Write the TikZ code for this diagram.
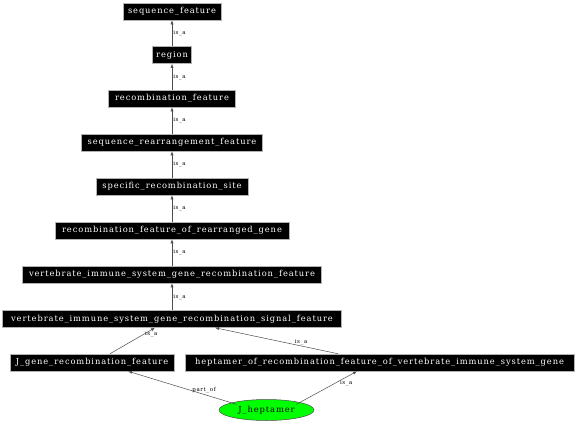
\documentclass[tikz,border=0pt]{standalone}
\usepackage{fontspec}
\setmainfont{DejaVu Serif}
\newfontfamily\widefont[LetterSpace=11]{DejaVu Serif}
\usetikzlibrary{arrows.meta,shapes.geometric}
\begin{document}
\begin{tikzpicture}[x=1pt,y=-1pt,
  term/.style={fill=black,text=white,draw=gray!60,line width=0.5pt,inner sep=0pt,minimum height=17pt,font=\widefont\fontsize{8.3}{9}\selectfont},
  edge/.style={draw=black!70,line width=0.5pt,-{Latex[length=4pt,width=3pt]}},
  lab/.style={font=\widefont\fontsize{5.5}{6}\selectfont,inner sep=1pt}]
\useasboundingbox (0,0) rectangle (576,423);
\node[term,minimum width=98pt] (sf) at (172,11.5) {sequence\_feature};
\node[term,minimum width=39pt] (rg) at (172,55) {region};
\node[term,minimum width=127pt] (rf) at (172,98.5) {recombination\_feature};
\node[term,minimum width=181pt] (srf) at (172,142.5) {sequence\_rearrangement\_feature};
\node[term,minimum width=152pt] (srs) at (172,186.5) {specific\_recombination\_site};
\node[term,minimum width=234pt] (rfrg) at (172,230.5) {recombination\_feature\_of\_rearranged\_gene};
\node[term,minimum width=299pt] (visgrf) at (172,274.5) {vertebrate\_immune\_system\_gene\_recombination\_feature};
\node[term,minimum width=339pt] (visgrsf) at (172,319) {vertebrate\_immune\_system\_gene\_recombination\_signal\_feature};
\node[term,minimum width=164pt] (jgrf) at (92,362.5) {J\_gene\_recombination\_feature};
\node[term,minimum width=389pt] (hep) at (379.5,362.5) {heptamer\_of\_recombination\_feature\_of\_vertebrate\_immune\_system\_gene};
\node[ellipse,fill=green,draw=black!70,line width=0.5pt,minimum width=95pt,minimum height=21pt,inner sep=0pt,font=\widefont\fontsize{8.3}{9}\selectfont] (jh) at (266.5,410) {J\_heptamer};

\draw[edge] (rg) -- node[lab,right,pos=0.5] {is\_a} (sf);
\draw[edge] (rf) -- node[lab,right,pos=0.5] {is\_a} (rg);
\draw[edge] (srf) -- node[lab,right,pos=0.5] {is\_a} (rf);
\draw[edge] (srs) -- node[lab,right,pos=0.5] {is\_a} (srf);
\draw[edge] (rfrg) -- node[lab,right,pos=0.5] {is\_a} (srs);
\draw[edge] (visgrf) -- node[lab,right,pos=0.5] {is\_a} (rfrg);
\draw[edge] (visgrsf) -- node[lab,right,pos=0.5] {is\_a} (visgrf);
\draw[edge] (jgrf.north -| 110,0) -- node[lab,right,pos=0.75] {is\_a} (visgrsf.south -| 155,0);
\draw[edge] (hep.north -| 338,0) -- node[lab,above,pos=0.3] {is\_a} (visgrsf.south -| 215,0);
\draw[edge] (jh.north west) ++(4,2) coordinate (jha) (jha) -- node[lab,above,pos=0.3] {part\_of} (jgrf.south -| 128,0);
\draw[edge] (jh.north east) ++(-4,2) coordinate (jhb) (jhb) -- node[lab,below right,pos=0.75,xshift=-3pt] {is\_a} (hep.south -| 357,0);
\end{tikzpicture}
\end{document}
